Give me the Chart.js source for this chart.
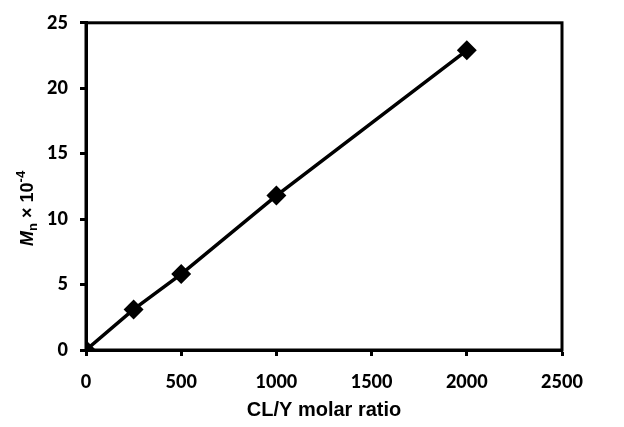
<!DOCTYPE html>
<html>
<head>
<meta charset="utf-8">
<script src="https://cdn.jsdelivr.net/npm/chart.js@4/dist/chart.umd.min.js"></script>
<style>
  html, body { margin: 0; padding: 0; background: #fff; }
  #wrap { width: 624px; height: 427px; }
</style>
</head>
<body>
<div id="wrap"><canvas id="myChart"></canvas></div>
<script>
var ratios = [0, 250, 500, 1000, 2000];
var mnValues = [0, 3.1, 5.8, 11.8, 22.9];
var xTicks = [0, 500, 1000, 1500, 2000, 2500];
var yTicks = [0, 5, 10, 15, 20, 25];

var tickFont = { family: 'Lato', weight: '900', size: 18 };

// frame round the plot area
var framePlugin = {
    id: 'frame',
    beforeDatasetsDraw: function(chart) {
        var a = chart.chartArea, c = chart.ctx;
        c.save();
        c.strokeStyle = '#000';
        c.lineWidth = 3;
        c.strokeRect(a.left, a.top, a.right - a.left, a.bottom - a.top);
        c.restore();
    }
};

// y axis title with italic M, subscript n and superscript -4
var yTitlePlugin = {
    id: 'yTitle',
    afterDraw: function(chart) {
        var a = chart.chartArea, c = chart.ctx;
        var parts = [
            { t: 'M', f: 'italic bold 18px "Liberation Sans"', dy: 0 },
            { t: 'n', f: 'bold 13px "Liberation Sans"', dy: 5 },
            { t: ' \u00d7 10', f: 'bold 18px "Liberation Sans"', dy: 0 },
            { t: '-4', f: 'bold 13px "Liberation Sans"', dy: -7 }
        ];
        var total = 0;
        parts.forEach(function(p) { c.font = p.f; p.w = c.measureText(p.t).width; total += p.w; });
        c.save();
        c.translate(28, (a.top + a.bottom) / 2 + 22);
        c.rotate(-Math.PI / 2);
        c.fillStyle = '#000';
        c.textBaseline = 'middle';
        var x = -total / 2;
        parts.forEach(function(p) {
            c.font = p.f;
            c.fillText(p.t, x, p.dy);
            x += p.w;
        });
        c.restore();
    }
};

var ctx = document.getElementById('myChart');
var myChart = new Chart(ctx, {
    type: 'scatter',
    data: {
        datasets: [
            {
                label: 'Mn',
                data: ratios.map(function(r, i) { return { x: r, y: mnValues[i] }; }),
                showLine: true,
                borderColor: '#000',
                backgroundColor: '#000',
                borderWidth: 3.5,
                pointStyle: 'rectRot',
                pointRadius: 7.5,
                pointHoverRadius: 7.5,
                tension: 0
            }
        ]
    },
    options: {
        responsive: true,
        maintainAspectRatio: false,
        animation: false,
        layout: { padding: { top: 21, right: 62, left: 0, bottom: 5 } },
        plugins: {
            legend: { display: false },
            tooltip: { enabled: false }
        },
        scales: {
            x: {
                type: 'linear',
                min: 0,
                max: 2500,
                afterBuildTicks: function(s) { s.ticks = xTicks.map(function(v) { return { value: v }; }); },
                border: { display: true, color: '#000', width: 3 },
                grid: { drawOnChartArea: false, drawTicks: true, tickLength: 6, tickWidth: 3, tickColor: '#000' },
                ticks: { color: '#000', font: tickFont, padding: 15, maxRotation: 0,
                         callback: function(v) { return String(v); } },
                title: { display: true, text: 'CL/Y molar ratio', color: '#000',
                         font: { family: 'Liberation Sans', weight: 'bold', size: 20 }, padding: { top: 2, bottom: 0 } },
                afterFit: function(s) { s.height = 72; }
            },
            y: {
                min: 0,
                max: 25,
                afterBuildTicks: function(s) { s.ticks = yTicks.map(function(v) { return { value: v }; }); },
                border: { display: true, color: '#000', width: 3 },
                grid: { drawOnChartArea: false, drawTicks: true, tickLength: 6, tickWidth: 3, tickColor: '#000' },
                ticks: { color: '#000', font: tickFont, padding: 12,
                         callback: function(v) { return String(v); } },
                afterFit: function(s) { s.width = 86; }
            }
        }
    },
    plugins: [framePlugin, yTitlePlugin]
});
</script>
</body>
</html>
